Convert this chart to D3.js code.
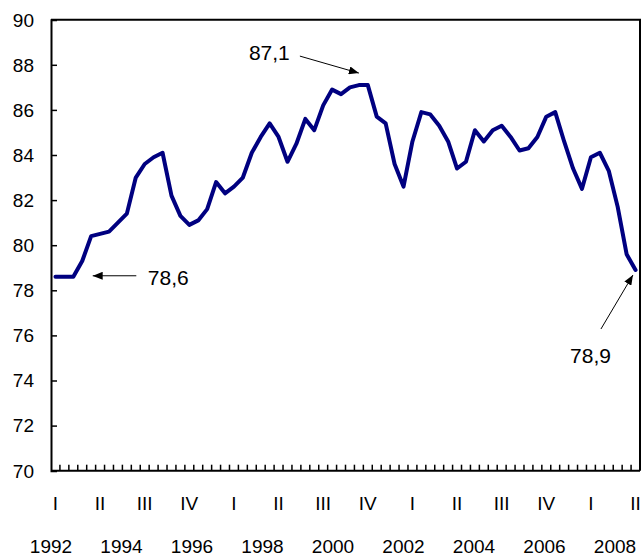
<!DOCTYPE html>
<html>
<head>
<meta charset="utf-8">
<script src="https://cdn.jsdelivr.net/npm/d3@7"></script>
<style>
  body { margin: 0; background: #fff; }
  svg { display: block; font-family: "Liberation Sans", Arial, sans-serif; }
</style>
</head>
<body>
<svg width="644" height="557"></svg>
<script>
  // quarterly values, 1992 Q1 .. 2008 Q2
  const values = [
    78.6, 78.6, 78.6, 79.3, 80.4, 80.5, 80.6, 81.0, 81.4, 83.0, 83.6, 83.9,
    84.1, 82.2, 81.3, 80.9, 81.1, 81.6, 82.8, 82.3, 82.6, 83.0, 84.1, 84.8,
    85.4, 84.8, 83.7, 84.5, 85.6, 85.1, 86.2, 86.9, 86.7, 87.0, 87.1, 87.1,
    85.7, 85.4, 83.6, 82.6, 84.6, 85.9, 85.8, 85.3, 84.6, 83.4, 83.7, 85.1,
    84.6, 85.1, 85.3, 84.8, 84.2, 84.3, 84.8, 85.7, 85.9, 84.6, 83.4, 82.5,
    83.9, 84.1, 83.3, 81.7, 79.6, 78.9
  ];
  const quarterNames = ["I", "II", "III", "IV"];
  const labelEvery = 5;
  const years = ["1992", "1994", "1996", "1998", "2000", "2002", "2004", "2006", "2008"];
  const yTicks = [70, 72, 74, 76, 78, 80, 82, 84, 86, 88, 90];

  const svg = d3.select("svg");
  const plotL = 51, plotR = 640, plotT = 19.7, plotB = 470.7;

  const categories = values.map((v, i) => i);
  const x = d3.scalePoint()
      .domain(categories)
      .range([plotL, plotR])
      .padding(0.5);
  const step = x.step();

  const y = d3.scaleLinear()
      .domain([70, 90])
      .range([plotB, plotT]);

  // frame (top and right)
  svg.append("path")
      .attr("d", `M${plotL},${plotT}H${plotR}V${plotB}`)
      .attr("fill", "none")
      .attr("stroke", "#000")
      .attr("stroke-width", 2);

  // y axis
  const yAxis = svg.append("g")
      .attr("transform", `translate(${plotL},0)`)
      .call(d3.axisRight(y).tickValues(yTicks).tickSize(6).tickFormat(""));
  yAxis.select(".domain").attr("stroke-width", 2);
  yAxis.selectAll(".tick line").attr("stroke-width", 1.5);

  svg.append("g")
      .selectAll("text")
      .data(yTicks)
      .join("text")
      .attr("x", 34)
      .attr("y", d => y(d))
      .attr("dy", "0.36em")
      .attr("text-anchor", "end")
      .attr("font-size", 19)
      .text(d => d);

  // x axis: ticks between quarters, pointing up
  const bounds = d3.range(1, values.length).map(i => x(i) - step / 2);
  svg.append("g")
      .selectAll("line")
      .data(bounds)
      .join("line")
      .attr("x1", d => d)
      .attr("x2", d => d)
      .attr("y1", plotB)
      .attr("y2", plotB - 6)
      .attr("stroke", "#000")
      .attr("stroke-width", 1.5);
  svg.append("line")
      .attr("x1", plotL).attr("x2", plotR)
      .attr("y1", plotB).attr("y2", plotB)
      .attr("stroke", "#000")
      .attr("stroke-width", 2);

  // quarter labels every 5th quarter
  const labelled = categories.filter(i => i % labelEvery === 0);
  svg.append("g")
      .selectAll("text")
      .data(labelled)
      .join("text")
      .attr("x", d => x(d))
      .attr("y", 510)
      .attr("text-anchor", "middle")
      .attr("font-size", 19)
      .text(d => quarterNames[d % 4]);

  // year row
  const yearX = d3.scalePoint().domain(years).range([51, 615]);
  svg.append("g")
      .selectAll("text")
      .data(years)
      .join("text")
      .attr("x", d => yearX(d))
      .attr("y", 552.5)
      .attr("text-anchor", "middle")
      .attr("font-size", 19)
      .text(d => d);

  // the line
  svg.append("path")
      .datum(values)
      .attr("fill", "none")
      .attr("stroke", "#000080")
      .attr("stroke-width", 4)
      .attr("stroke-linejoin", "round")
      .attr("stroke-linecap", "round")
      .attr("d", d3.line()
          .x((d, i) => x(i))
          .y(d => y(d)));

  // annotations
  svg.append("defs").append("marker")
      .attr("id", "head")
      .attr("viewBox", "0 0 10 8")
      .attr("refX", 10).attr("refY", 4)
      .attr("markerWidth", 10).attr("markerHeight", 8)
      .attr("markerUnits", "userSpaceOnUse")
      .attr("orient", "auto")
      .append("path")
      .attr("d", "M0,0L10,4L0,8Z")
      .attr("fill", "#000");

  const notes = [
    { i: 34, text: "87,1", tip: [0, -12], tail: [-59, -29], tx: [-110, -25.5] },
    { i: 2,  text: "78,6", tip: [19.4, -1], tail: [63, -1], tx: [74.5, 8.5] },
    { i: 65, text: "78,9", tip: [-2.6, 5], tail: [-34.6, 59], tx: [-65.5, 93] }
  ];
  const ng = svg.append("g").selectAll("g").data(notes).join("g");
  ng.append("line")
      .attr("x1", d => x(d.i) + d.tail[0])
      .attr("y1", d => y(values[d.i]) + d.tail[1])
      .attr("x2", d => x(d.i) + d.tip[0])
      .attr("y2", d => y(values[d.i]) + d.tip[1])
      .attr("stroke", "#000")
      .attr("stroke-width", 1)
      .attr("marker-end", "url(#head)");
  ng.append("text")
      .attr("x", d => x(d.i) + d.tx[0])
      .attr("y", d => y(values[d.i]) + d.tx[1])
      .attr("font-size", 21)
      .text(d => d.text);
</script>
</body>
</html>
